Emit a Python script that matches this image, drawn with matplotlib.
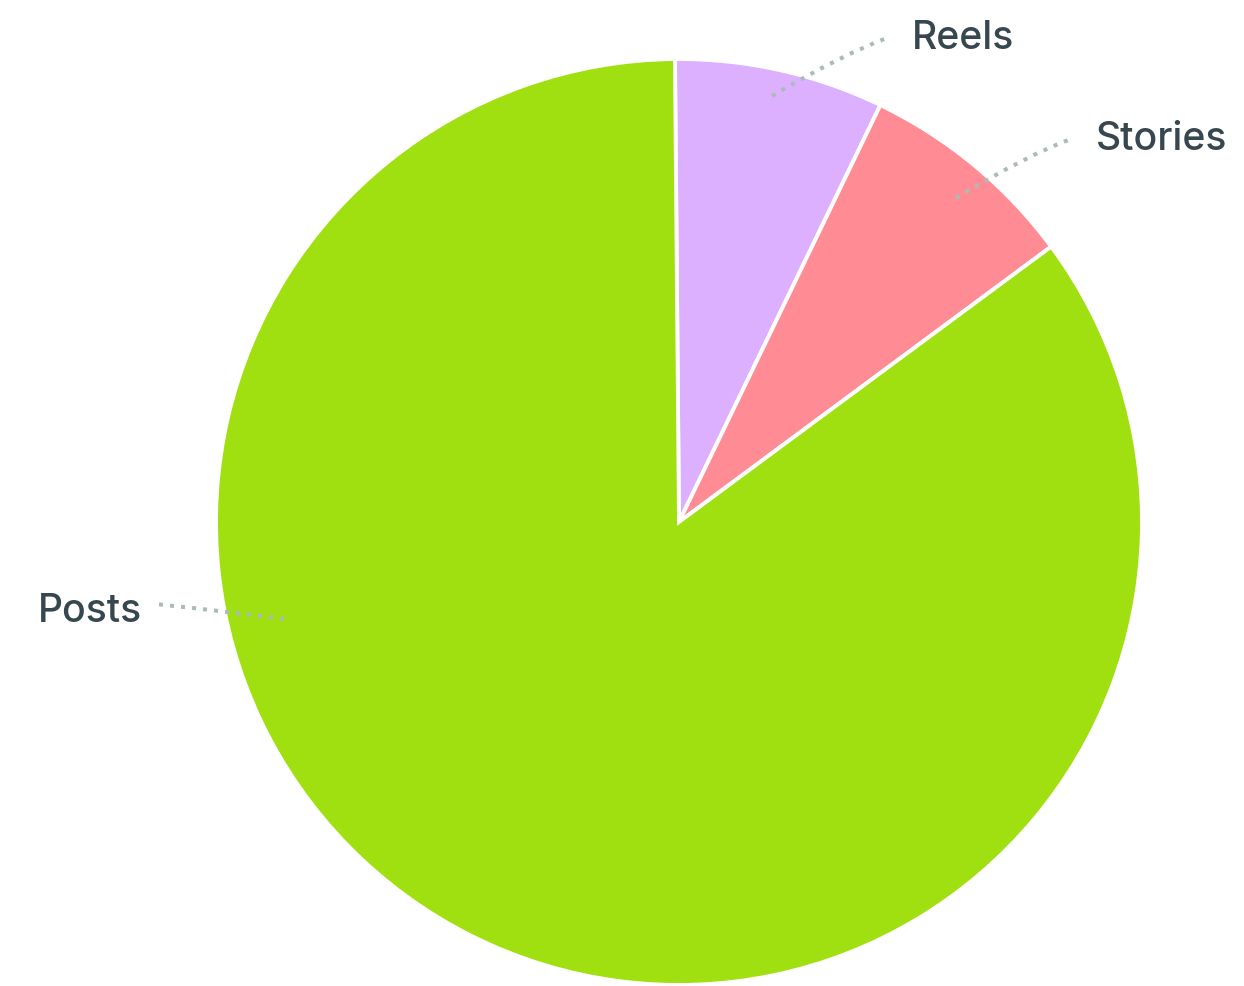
import matplotlib.pyplot as plt
from matplotlib.path import Path
from matplotlib.patches import PathPatch

# slice data (share of content, in %)
labels = ['Reels', 'Stories', 'Posts']
values = [7.3, 7.7, 85.0]
colors = ['#DCB0FF', '#FF8C94', '#A0E010']

# figure in pixel coordinates (y pointing down like the screenshot)
W, H = 1244, 987
fig = plt.figure(figsize=(W / 100, H / 100), dpi=100)
ax = fig.add_axes([0, 0, 1, 1])

cx, cy, r = 679, 523, 463

# with y inverted, counterclock=True runs clockwise on screen
ax.pie(values, colors=colors, center=(cx, cy), radius=r,
       startangle=-90.5, counterclock=True,
       wedgeprops=dict(edgecolor='white', linewidth=2.8, joinstyle='miter'))

ax.set_xlim(0, W)
ax.set_ylim(H, 0)
ax.set_aspect('equal')
ax.axis('off')

# leader lines: start inside the slice, bend, end near the label
leaders = {
    'Reels': [(772, 97), (841, 56), (887, 39)],
    'Stories': [(956, 199), (1029, 155), (1071, 140)],
    'Posts': [(284, 620), (242, 614), (155, 605)],
}
for name, pts in leaders.items():
    path = Path(pts, [Path.MOVETO, Path.CURVE3, Path.CURVE3])
    ax.add_patch(PathPatch(path, fill=False, edgecolor='#ACBAB8', linewidth=2.9,
                           linestyle=(0, (1, 1.75)), capstyle='butt'))

# label text
txt = dict(fontsize=28.2, color='#37474F', family='Inter', fontweight='medium',
           va='baseline')
ax.text(912, 49, 'Reels', ha='left', **txt)
ax.text(1096, 150, 'Stories', ha='left', **txt)
ax.text(142, 622, 'Posts', ha='right', **txt)

fig.savefig('out.png', dpi=100)
